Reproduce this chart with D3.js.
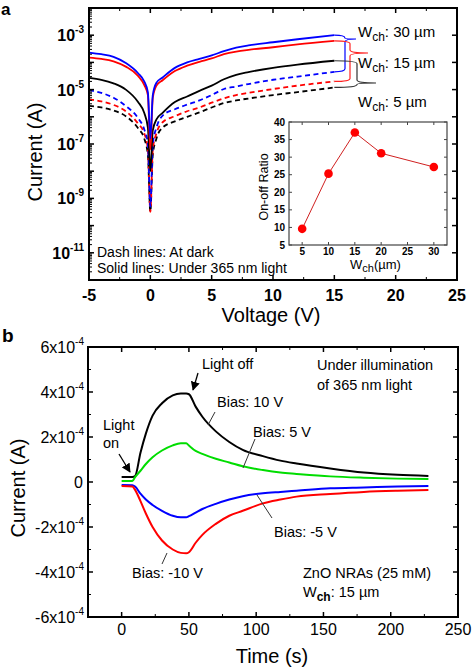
<!DOCTYPE html>
<html><head><meta charset="utf-8">
<script src="https://cdn.jsdelivr.net/npm/d3@7"></script>
<style>
html,body{margin:0;padding:0;background:#fff;}
text{font-family:Arial,"Liberation Sans",sans-serif;}
</style></head>
<body>
<svg id="chart" width="472" height="669"></svg>
<script>
// ---------- Panel a data (I-V, log current) ----------
const voltages = [-5,-4,-3,-2,-1,-0.5,-0.2,0,0.2,0.5,1,2,3,4,5,6,7,8,10,12,15];
const light30 = [2.3e-4,2.0e-4,1.6e-4,9.5e-5,4.0e-5,2.0e-5,8e-6,1.6e-7,6.3e-6,1.8e-5,2.8e-5,6.3e-5,1.0e-4,1.35e-4,1.8e-4,2.6e-4,3.5e-4,4.2e-4,5.5e-4,7.1e-4,1.0e-3];
const light15 = [1.5e-4,1.35e-4,1.1e-4,7e-5,3.2e-5,1.5e-5,6.3e-6,6.3e-8,5e-6,1.4e-5,2.2e-5,4.8e-5,7.6e-5,1.05e-4,1.4e-4,2.0e-4,2.5e-4,2.9e-4,3.6e-4,4.6e-4,6.2e-4];
const light5  = [2.7e-5,2.3e-5,1.7e-5,1.0e-5,3.5e-6,1.4e-6,4e-7,1e-8,3.2e-7,8e-7,1.4e-6,3.5e-6,5.6e-6,9e-6,1.4e-5,2.4e-5,3.5e-5,4.4e-5,6.3e-5,8.3e-5,1.15e-4];
const dark30  = [9.5e-6,7.6e-6,5e-6,2.5e-6,8.9e-7,3.5e-7,1e-7,5e-10,1e-7,4e-7,1.1e-6,1.9e-6,2.8e-6,4e-6,6.3e-6,1.05e-5,1.3e-5,1.6e-5,2.3e-5,3e-5,4.5e-5];
const dark15  = [4.4e-6,3.7e-6,2.75e-6,1.6e-6,5.6e-7,2.5e-7,6.3e-8,3.2e-10,6.3e-8,2.5e-7,6.3e-7,1.05e-6,1.6e-6,2.2e-6,3.3e-6,4.8e-6,6.3e-6,7.6e-6,1.05e-5,1.4e-5,2.0e-5];
const dark5   = [2.5e-6,2.2e-6,1.7e-6,1.05e-6,3.8e-7,1.6e-7,4e-8,3.2e-10,4e-8,1.6e-7,4e-7,6.8e-7,1e-6,1.45e-6,2.2e-6,3.2e-6,4e-6,4.7e-6,6.3e-6,8.1e-6,1.2e-5];
const ivSeries = [
  {name:"dark5", values:dark5, color:"#000000", dash:true},
  {name:"dark15", values:dark15, color:"#ff0000", dash:true},
  {name:"dark30", values:dark30, color:"#0000ff", dash:true},
  {name:"light5", values:light5, color:"#000000", dash:false},
  {name:"light15", values:light15, color:"#ff0000", dash:false},
  {name:"light30", values:light30, color:"#0000ff", dash:false}
];
const voltTicks = [-5,0,5,10,15,20,25];
const logLabelExps = [-3,-5,-7,-9,-11];

// ---------- Inset data ----------
const widths = [5,10,15,20,30];
const onOffRatio = [9.6,25.3,37.0,31.1,27.2];
const insetXTicks = [5,10,15,20,25,30];
const insetYTicks = [5,10,15,20,25,30,35,40];

// ---------- Panel b data (transient) ----------
const times = [0,8,10,14,18,23,30,38,44,48,50,55,60,70,80,90,105,118,130,155,180,205,228];
const bias10  = [2.2e-5,2.2e-5,2.6e-5,1.3e-4,2.15e-4,2.95e-4,3.5e-4,3.85e-4,3.93e-4,3.93e-4,3.9e-4,3.35e-4,2.9e-4,2.25e-4,1.78e-4,1.43e-4,1.15e-4,9.5e-5,8.2e-5,6.0e-5,4.2e-5,3.2e-5,2.7e-5];
const bias5   = [5e-6,5e-6,2.2e-5,5e-5,8e-5,1.1e-4,1.4e-4,1.63e-4,1.72e-4,1.72e-4,1.62e-4,1.38e-4,1.25e-4,1.03e-4,8.7e-5,7.0e-5,5.3e-5,4.2e-5,3.6e-5,2.5e-5,1.9e-5,1.5e-5,1.3e-5];
const biasM5  = [-1.3e-5,-1.4e-5,-2.0e-5,-5.2e-5,-7.8e-5,-1.02e-4,-1.28e-4,-1.5e-4,-1.57e-4,-1.57e-4,-1.52e-4,-1.36e-4,-1.2e-4,-9.7e-5,-7.8e-5,-6.3e-5,-5.0e-5,-4.4e-5,-3.9e-5,-2.8e-5,-2.4e-5,-2.0e-5,-1.8e-5];
const biasM10 = [-1.8e-5,-2.0e-5,-3.5e-5,-8.5e-5,-1.4e-4,-2.0e-4,-2.6e-4,-3.0e-4,-3.15e-4,-3.17e-4,-3.12e-4,-2.7e-4,-2.35e-4,-1.86e-4,-1.5e-4,-1.28e-4,-9.5e-5,-7.8e-5,-6.5e-5,-5.3e-5,-4.4e-5,-3.9e-5,-3.6e-5];
const transSeries = [
  {name:"10 V", values:bias10, color:"#000000"},
  {name:"5 V", values:bias5, color:"#00dd00"},
  {name:"-5 V", values:biasM5, color:"#0000ff"},
  {name:"-10 V", values:biasM10, color:"#ff0000"}
];
const timeTicks = [0,50,100,150,200,250];
const currTicks = [-6,-4,-2,0,2,4,6];

// ---------- Drawing ----------
const svg = d3.select("#chart");
svg.append("rect").attr("width",472).attr("height",669).attr("fill","#fff");

// ===== Panel a =====
const xa = d3.scaleLinear().domain([-5,25]).range([89,457]);
const ya = d3.scaleLog().domain([1e-12,1e-2]).range([280,8]);
const ga = svg.append("g");

const lineA = d3.line().x((d,i)=>xa(voltages[i])).y(d=>ya(d)).curve(d3.curveMonotoneX);
ivSeries.forEach(s=>{
  ga.append("path").attr("d",lineA(s.values)).attr("fill","none")
    .attr("stroke",s.color).attr("stroke-width",1.8)
    .attr("stroke-dasharray",s.dash?"5,3.5":null);
});

ga.append("rect").attr("x",89).attr("y",8).attr("width",368).attr("height",272)
  .attr("fill","none").attr("stroke","#000").attr("stroke-width",2);

const xMinorA = d3.range(-2.5,25,5);
voltTicks.forEach(v=>{
  ga.append("line").attr("x1",xa(v)).attr("x2",xa(v)).attr("y1",280).attr("y2",275).attr("stroke","#000").attr("stroke-width",1.5);
  ga.append("line").attr("x1",xa(v)).attr("x2",xa(v)).attr("y1",8).attr("y2",13).attr("stroke","#000").attr("stroke-width",1.5);
  ga.append("text").attr("x",xa(v)).attr("y",301).attr("text-anchor","middle")
    .attr("font-size",16).attr("font-weight","bold").text(v);
});
xMinorA.forEach(v=>{
  ga.append("line").attr("x1",xa(v)).attr("x2",xa(v)).attr("y1",280).attr("y2",277).attr("stroke","#000");
  ga.append("line").attr("x1",xa(v)).attr("x2",xa(v)).attr("y1",8).attr("y2",11).attr("stroke","#000");
});
d3.range(-12,-1).forEach(e=>{
  const y = ya(Math.pow(10,e));
  ga.append("line").attr("x1",89).attr("x2",94).attr("y1",y).attr("y2",y).attr("stroke","#000").attr("stroke-width",1.5);
  ga.append("line").attr("x1",457).attr("x2",452).attr("y1",y).attr("y2",y).attr("stroke","#000").attr("stroke-width",1.5);
  if(e<-2){
    d3.range(2,10).forEach(m=>{
      const ym = ya(m*Math.pow(10,e));
      ga.append("line").attr("x1",89).attr("x2",92).attr("y1",ym).attr("y2",ym).attr("stroke","#000");
    });
  }
});
logLabelExps.forEach(e=>{
  const y = ya(Math.pow(10,e));
  const t = ga.append("text").attr("x",84).attr("y",y+6).attr("text-anchor","end")
    .attr("font-size",16).attr("font-weight","bold");
  t.append("tspan").text("10");
  t.append("tspan").attr("dy",-8).attr("font-size",10).text("-"+(-e));
});
ga.append("text").attr("transform","translate(42,152) rotate(-90)").attr("text-anchor","middle")
  .attr("font-size",20).text("Current (A)");
ga.append("text").attr("x",271).attr("y",322).attr("text-anchor","middle")
  .attr("font-size",20).text("Voltage (V)");
ga.append("text").attr("x",1).attr("y",15).attr("font-size",17).attr("font-weight","bold").text("a");

ga.append("text").attr("x",97).attr("y",257).attr("font-size",14).text("Dash lines: At dark");
ga.append("text").attr("x",97).attr("y",273).attr("font-size",14).text("Solid lines: Under 365 nm light");

function brace(x0,yTop,yBot,xv,yTip,xTip){
  const r=3;
  const a=Math.max(yTop+r,yTip-r), b=Math.min(yBot-r,yTip+r);
  return `M${x0},${yTop} Q${xv},${yTop} ${xv},${yTop+r} L${xv},${a} Q${xv},${yTip} ${xTip},${yTip} Q${xv},${yTip} ${xv},${b} L${xv},${yBot-r} Q${xv},${yBot} ${x0},${yBot}`;
}
const vEnd = voltages[voltages.length-1];
const last = arr=>arr[arr.length-1];
const braces = [
  {top:last(light30), bot:last(dark30), xv:345, tip:39, xt:356, color:"#0000ff", label:"30", ly:37},
  {top:last(light15), bot:last(dark15), xv:350, tip:53, xt:368, color:"#ff2020", label:"15", ly:68},
  {top:last(light5), bot:last(dark5), xv:357, tip:83, xt:376, color:"#333", label:"5", ly:107}
];
braces.forEach(b=>{
  ga.append("path").attr("d",brace(xa(vEnd),ya(b.top),ya(b.bot),b.xv,b.tip,b.xt))
    .attr("fill","none").attr("stroke",b.color).attr("stroke-width",1.2);
  const t = ga.append("text").attr("x",358).attr("y",b.ly).attr("font-size",15);
  t.append("tspan").text("W");
  t.append("tspan").attr("dy",4).attr("font-size",12).text("ch");
  t.append("tspan").attr("dy",-4).text(": "+b.label+" \u00b5m");
});

// ===== Inset =====
const xi = d3.scaleLinear().domain([2.5,32.5]).range([289,447]);
const yi = d3.scaleLinear().domain([5,40]).range([245,122]);
const gi = svg.append("g");
gi.append("rect").attr("x",289).attr("y",122).attr("width",158).attr("height",123)
  .attr("fill","#fff").attr("stroke","#444").attr("stroke-width",1.2);
insetXTicks.forEach(v=>{
  gi.append("line").attr("x1",xi(v)).attr("x2",xi(v)).attr("y1",245).attr("y2",242).attr("stroke","#444");
  gi.append("line").attr("x1",xi(v)).attr("x2",xi(v)).attr("y1",122).attr("y2",125).attr("stroke","#444");
  gi.append("text").attr("x",xi(v)).attr("y",255).attr("text-anchor","middle")
    .attr("font-size",10).attr("font-weight","bold").text(v);
});
insetYTicks.forEach(v=>{
  gi.append("line").attr("x1",289).attr("x2",292).attr("y1",yi(v)).attr("y2",yi(v)).attr("stroke","#444");
  gi.append("line").attr("x1",447).attr("x2",444).attr("y1",yi(v)).attr("y2",yi(v)).attr("stroke","#444");
  gi.append("text").attr("x",285).attr("y",yi(v)+3.5).attr("text-anchor","end")
    .attr("font-size",10).attr("font-weight","bold").text(v);
});
gi.append("path").attr("d",d3.line().x((d,i)=>xi(widths[i])).y(d=>yi(d))(onOffRatio))
  .attr("fill","none").attr("stroke","#d02020").attr("stroke-width",1);
gi.selectAll("circle").data(onOffRatio).join("circle")
  .attr("cx",(d,i)=>xi(widths[i])).attr("cy",d=>yi(d)).attr("r",4.3).attr("fill","#ff0000");
gi.append("text").attr("transform","translate(268,187) rotate(-90)").attr("text-anchor","middle")
  .attr("font-size",12.5).text("On-off Ratio");
{
  const t = gi.append("text").attr("x",350).attr("y",269).attr("font-size",13);
  t.append("tspan").text("W");
  t.append("tspan").attr("dy",3).attr("font-size",11).text("ch");
  t.append("tspan").attr("dy",-3).text("(\u00b5m)");
}

// ===== Panel b =====
const xb = d3.scaleLinear().domain([-25,250]).range([88,458]);
const yb = d3.scaleLinear().domain([-6e-4,6e-4]).range([617,347]);
const gb = svg.append("g");
const lineB = d3.line().x((d,i)=>xb(times[i])).y(d=>yb(d)).curve(d3.curveMonotoneX);
transSeries.forEach(s=>{
  gb.append("path").attr("d",lineB(s.values)).attr("fill","none")
    .attr("stroke",s.color).attr("stroke-width",2);
});
gb.append("rect").attr("x",88).attr("y",347).attr("width",370).attr("height",270)
  .attr("fill","none").attr("stroke","#000").attr("stroke-width",2);
timeTicks.forEach(v=>{
  gb.append("line").attr("x1",xb(v)).attr("x2",xb(v)).attr("y1",617).attr("y2",612).attr("stroke","#000").attr("stroke-width",1.5);
  gb.append("line").attr("x1",xb(v)).attr("x2",xb(v)).attr("y1",347).attr("y2",352).attr("stroke","#000").attr("stroke-width",1.5);
  gb.append("text").attr("x",xb(v)).attr("y",635).attr("text-anchor","middle").attr("font-size",16).text(v);
});
d3.range(25,250,50).forEach(v=>{
  gb.append("line").attr("x1",xb(v)).attr("x2",xb(v)).attr("y1",617).attr("y2",614).attr("stroke","#000");
  gb.append("line").attr("x1",xb(v)).attr("x2",xb(v)).attr("y1",347).attr("y2",350).attr("stroke","#000");
});
currTicks.forEach(k=>{
  const y = yb(k*1e-4);
  gb.append("line").attr("x1",88).attr("x2",93).attr("y1",y).attr("y2",y).attr("stroke","#000").attr("stroke-width",1.5);
  gb.append("line").attr("x1",458).attr("x2",453).attr("y1",y).attr("y2",y).attr("stroke","#000").attr("stroke-width",1.5);
  const t = gb.append("text").attr("x",k===0?83:84).attr("y",y+6).attr("text-anchor","end").attr("font-size",16);
  if(k===0){ t.text("0"); }
  else {
    t.append("tspan").text((k<0?"-":"")+Math.abs(k)+"x10");
    t.append("tspan").attr("dy",-8).attr("font-size",10).text("-4");
  }
});
d3.range(-5,6,2).forEach(k=>{
  const y = yb(k*1e-4);
  gb.append("line").attr("x1",88).attr("x2",91).attr("y1",y).attr("y2",y).attr("stroke","#000");
  gb.append("line").attr("x1",458).attr("x2",455).attr("y1",y).attr("y2",y).attr("stroke","#000");
});
gb.append("text").attr("transform","translate(25,488) rotate(-90)").attr("text-anchor","middle")
  .attr("font-size",20).text("Current (A)");
gb.append("text").attr("x",272).attr("y",663).attr("text-anchor","middle").attr("font-size",20).text("Time (s)");
gb.append("text").attr("x",2).attr("y",342).attr("font-size",19).attr("font-weight","bold").text("b");

svg.append("defs").append("marker").attr("id","arr").attr("viewBox","0 0 10 10")
  .attr("refX",9).attr("refY",5).attr("markerWidth",7).attr("markerHeight",7).attr("orient","auto")
  .append("path").attr("d","M0,0 L10,5 L0,10 z").attr("fill","#000");
const fs = 14.5;
function txt(x,y,s){ return gb.append("text").attr("x",x).attr("y",y).attr("font-size",fs).text(s); }
function seg(x1,y1,x2,y2,arrow){
  const l = gb.append("line").attr("x1",x1).attr("y1",y1).attr("x2",x2).attr("y2",y2)
    .attr("stroke",arrow?"#000":"#333").attr("stroke-width",arrow?1.3:1);
  if(arrow) l.attr("marker-end","url(#arr)");
}
txt(202,369,"Light off");
seg(198,373,193,390,true);
txt(103,430,"Light");
txt(103,448,"on");
seg(119,454,130,472,true);
txt(217,407,"Bias: 10 V");
seg(215,412,208,425,false);
txt(253,437,"Bias: 5 V");
seg(255,439,243,468,false);
txt(274,537,"Bias: -5 V");
seg(272,518,257,495,false);
txt(132,578,"Bias: -10 V");
seg(162,564,167,553,false);
txt(317,370,"Under illumination");
txt(317,390,"of 365 nm light");
txt(303,578,"ZnO NRAs (25 mM)");
{
  const t = gb.append("text").attr("x",303).attr("y",597).attr("font-size",fs);
  t.append("tspan").text("W");
  t.append("tspan").attr("dy",4).attr("font-size",12).attr("font-weight","bold").text("ch");
  t.append("tspan").attr("dy",-4).text(": 15 \u00b5m");
}
</script>
</body></html>
